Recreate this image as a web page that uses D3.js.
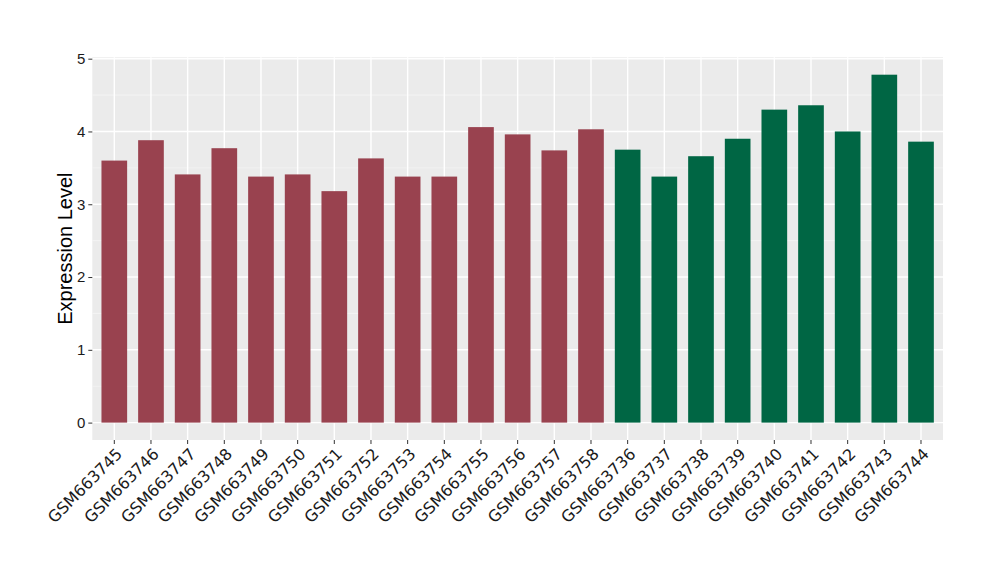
<!DOCTYPE html>
<html><head><meta charset="utf-8">
<script src="https://cdn.jsdelivr.net/npm/d3@7"></script>
<style>body{margin:0;background:#fff}</style>
</head><body><svg id="c" width="1000" height="580"></svg>
<script>
const samples = ["GSM663745","GSM663746","GSM663747","GSM663748","GSM663749","GSM663750","GSM663751","GSM663752","GSM663753","GSM663754","GSM663755","GSM663756","GSM663757","GSM663758","GSM663736","GSM663737","GSM663738","GSM663739","GSM663740","GSM663741","GSM663742","GSM663743","GSM663744"];
const values = [3.60,3.88,3.41,3.77,3.38,3.41,3.18,3.63,3.38,3.38,4.06,3.96,3.74,4.03,3.75,3.38,3.66,3.90,4.30,4.36,4.00,4.78,3.86];
const groups = ["a","a","a","a","a","a","a","a","a","a","a","a","a","a","b","b","b","b","b","b","b","b","b"];
const yTicks = [0,1,2,3,4,5];
const groupColors = {a:"#99424F", b:"#006644"};

const svg = d3.select("#c");
const L = 92.3, R = 943, T = 57.3, B = 440;
const maxV = d3.max(values);
const x = d3.scaleBand().domain(samples).range([L, R]).paddingInner(0.3).paddingOuter(0.25);
const y = d3.scaleLinear().domain([-0.05*maxV, maxV*1.05]).range([B, T]);

svg.append("rect").attr("x", L).attr("y", T).attr("width", R-L).attr("height", B-T).attr("fill", "#EBEBEB");
const minor = d3.range(0.5, 5, 1);
svg.append("g").selectAll("line").data(minor).join("line")
  .attr("x1", L).attr("x2", R).attr("y1", d=>y(d)).attr("y2", d=>y(d))
  .attr("stroke", "#F5F5F5").attr("stroke-width", 0.8);
svg.append("g").selectAll("line").data(yTicks).join("line")
  .attr("x1", L).attr("x2", R).attr("y1", d=>y(d)).attr("y2", d=>y(d))
  .attr("stroke", "#fff").attr("stroke-width", 1.4);
svg.append("g").selectAll("line").data(samples).join("line")
  .attr("x1", d=>x(d)+x.bandwidth()/2).attr("x2", d=>x(d)+x.bandwidth()/2).attr("y1", T).attr("y2", B)
  .attr("stroke", "#fff").attr("stroke-width", 1.4);

svg.append("g").selectAll("rect").data(samples).join("rect")
  .attr("x", d=>x(d)).attr("width", x.bandwidth())
  .attr("y", (d,i)=>y(values[i])).attr("height", (d,i)=>y(0)-y(values[i]))
  .attr("fill", (d,i)=>groupColors[groups[i]]);

const ya = svg.append("g").attr("transform", `translate(${L},0)`)
  .call(d3.axisLeft(y).tickValues(yTicks).tickSize(4).tickPadding(3).tickFormat(d3.format("d")));
ya.select(".domain").remove();
ya.selectAll("line").attr("stroke", "#333");
ya.selectAll("text").attr("fill", "#1a1a1a").style("font-family", "Liberation Sans").style("font-size", "15px");

const xa = svg.append("g").attr("transform", `translate(0,${B})`)
  .call(d3.axisBottom(x).tickSize(4).tickPadding(2));
xa.select(".domain").remove();
xa.selectAll("line").attr("stroke", "#333");
xa.selectAll("text").attr("fill", "#1a1a1a").style("font-family", "DejaVu Sans").style("font-size", "16px")
  .attr("text-anchor", "end").attr("dy", null).attr("y", 0)
  .attr("transform", "translate(9,15) rotate(-45)");

svg.append("text").attr("transform", `translate(72,${(T+B)/2}) rotate(-90)`)
  .attr("text-anchor", "middle").style("font-family", "Liberation Sans").style("font-size", "20px")
  .attr("fill", "#000").text("Expression Level");
</script></body></html>
